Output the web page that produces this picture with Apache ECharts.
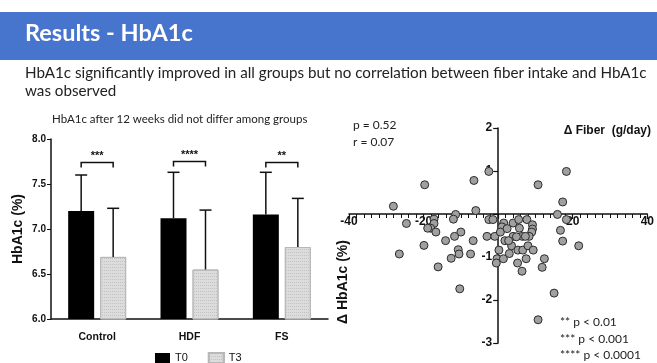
<!DOCTYPE html>
<html><head><meta charset="utf-8">
<script src="https://cdn.jsdelivr.net/npm/echarts@6/dist/echarts.min.js"></script>
<style>html,body{margin:0;padding:0;background:#fff}#c{width:657px;height:363px}</style>
</head><body><div id="c"></div>
<script>
// ---- data ----
const categories = ['Control', 'HDF', 'FS'];
const t0Mean = [7.20, 7.12, 7.16];
const t0Upper = [7.60, 7.63, 7.63];
const t3Mean = [6.69, 6.55, 6.80];
const t3Upper = [7.23, 7.21, 7.34];
const sigStars = ['***', '****', '**'];
const sigLevel = [7.74, 7.75, 7.74];
const barTicks = [6.0, 6.5, 7.0, 7.5, 8.0];

const fiberDelta = [-2.5, 18.3, 10.7, 17.3, 15.9, 18.3, 16.7, 17.3, 21.6, -2.5, -1.4, -3.0, -0.9, 1.5, 1.0, 0.6, 2.4, 1.8,
  4.0, 5.5, 7.7, 5.7, 9.2, 9.2, 9.0, 8.3, 6.5, 7.3, 4.0, 3.6, 5.3, 6.6, 8.0, 9.4, 0.2, -0.3, -0.5, 1.4, 3.0, 5.2, 7.5,
  6.4, 12.4, 11.8, 15.0, 10.7, -28.1, -24.6, -17.2, -17.2, -18.1, -16.7, -11.4, -12.0, -6.0, -10.0, -11.7, -14.1, -6.7,
  -19.9, -26.5, -10.7, -10.5, -12.6, -7.4, -16.1, -19.7, -6.5, -10.3, 2.8, 4.9, -18.9];
const hba1cDelta = [0.99, 0.99, 0.68, 0.28, -0.01, -0.13, -0.38, -0.63, -0.74, -0.13, -0.13, -0.52, -0.52, -0.21, -0.30, -0.42, -0.34, -0.62,
  -0.21, -0.13, -0.13, -0.33, -0.25, -0.35, -0.42, -0.52, -0.52, -0.52, -0.52, -0.74, -0.84, -0.84, -0.74, -0.84, -0.84, -1.04, -1.14, -1.04, -0.92, -1.14, -1.04,
  -1.33, -1.04, -1.24, -1.84, -2.46, 0.18, -0.22, -0.12, -0.22, -0.33, -0.42, -0.01, -0.12, 0.08, -0.42, -0.52, -0.62, -0.62,
  -0.73, -0.93, -0.83, -0.93, -1.03, -0.93, -1.23, 0.68, 0.78, -1.74, -0.62, -0.53, -0.33];
const scatterXTicks = [-40, -20, 0, 20, 40];
const scatterYTicks = [-3, -2, -1, 0, 1, 2];

// ---- chart ----
const chart = echarts.init(document.getElementById('c'));
const BW = 26, GAP = 6, OFF = (BW + GAP) / 2;
const fontMain = 'Lato, "Open Sans", sans-serif';
const fontAx = '"Liberation Sans", Arial, sans-serif';

function errRender(offset) {
  return function (params, api) {
    const c = api.value(0);
    const p0 = api.coord([c, api.value(1)]);
    const p1 = api.coord([c, api.value(2)]);
    const x = p0[0] + offset;
    return { type: 'group', children: [
      { type: 'line', shape: { x1: x, y1: p0[1], x2: x, y2: p1[1] }, style: { stroke: '#111', lineWidth: 1.5 } },
      { type: 'line', shape: { x1: x - 6, y1: p1[1], x2: x + 6, y2: p1[1] }, style: { stroke: '#111', lineWidth: 1.5 } }
    ] };
  };
}

const xMin = scatterXTicks[0], xMax = scatterXTicks[scatterXTicks.length - 1];
const yMin = scatterYTicks[0], yMax = scatterYTicks[scatterYTicks.length - 1];

chart.setOption({
  animation: false,
  graphic: [
    { type: 'rect', left: 0, top: 12, shape: { width: 657, height: 48 }, style: { fill: '#4775cd' } },
    { type: 'text', left: 25, top: 21, style: { text: 'Results - HbA1c', font: 'bold 23.5px ' + fontMain, fill: '#fff' } },
    { type: 'text', left: 25, top: 66, style: { text: 'HbA1c significantly improved in all groups but no correlation between fiber intake and HbA1c', font: '15.2px ' + fontMain, fill: '#222' } },
    { type: 'text', left: 25, top: 84, style: { text: 'was observed', font: '15.2px ' + fontMain, fill: '#222' } },
    { type: 'text', left: 52, top: 113, style: { text: 'HbA1c after 12 weeks did not differ among groups', font: '11.5px ' + fontMain, fill: '#222' } },
    { type: 'text', left: 353, top: 119, style: { text: 'p = 0.52', font: '12px ' + fontMain, fill: '#222' } },
    { type: 'text', left: 353, top: 136, style: { text: 'r = 0.07', font: '12px ' + fontMain, fill: '#222' } },
    { type: 'text', right: 6, top: 125, style: { text: 'Δ Fiber  (g/day)', font: 'bold 12px ' + fontAx, fill: '#111' } },
    { type: 'text', left: 560, top: 316, style: { text: '** p < 0.01', font: '12px ' + fontMain, fill: '#222' } },
    { type: 'text', left: 560, top: 333, style: { text: '*** p < 0.001', font: '12px ' + fontMain, fill: '#222' } },
    { type: 'text', left: 560, top: 349, style: { text: '**** p < 0.0001', font: '12px ' + fontMain, fill: '#222' } },
    { type: 'text', x: 343, y: 282, rotation: Math.PI / 2, style: { text: 'Δ HbA1c (%)', font: 'bold 14px ' + fontAx, fill: '#111', align: 'center', verticalAlign: 'middle' } }
  ],
  legend: {
    data: ['T0', 'T3'], left: 150, top: 347, itemWidth: 15, itemHeight: 10, itemGap: 20,
    icon: 'rect', textStyle: { fontFamily: fontAx, fontSize: 11, color: '#111' }
  },
  grid: [
    { left: 51, top: 139, width: 277, height: 180 },
    { left: 349, top: 128, width: 299, height: 215 }
  ],
  xAxis: [
    { gridIndex: 0, type: 'category', data: categories,
      axisLine: { lineStyle: { color: '#111', width: 1.5 } },
      axisTick: { alignWithLabel: true, length: 4, lineStyle: { color: '#111' } },
      axisLabel: { fontFamily: fontAx, fontWeight: 'bold', fontSize: 10.5, color: '#111', margin: 13 } },
    { gridIndex: 1, type: 'value', min: xMin, max: xMax, interval: 20, position: 'bottom',
      axisLine: { onZero: false, lineStyle: { color: '#111', width: 1.5 } },
      axisTick: { length: 5, lineStyle: { color: '#111', width: 1.2 } },
      minorTick: { show: true, splitNumber: 10, length: 4, lineStyle: { color: '#111', width: 1 } },
      splitLine: { show: false },
      axisLabel: { fontFamily: fontAx, fontWeight: 'bold', fontSize: 12, color: '#111', margin: 2,
        formatter: v => (v === 0 ? '' : String(v)) } }
  ],
  yAxis: [
    { gridIndex: 0, type: 'value', min: 6, max: 8, interval: 0.5,
      name: 'HbA1c (%)', nameLocation: 'middle', nameGap: 26,
      nameTextStyle: { fontFamily: fontAx, fontWeight: 'bold', fontSize: 14, color: '#111' },
      axisLine: { show: true, lineStyle: { color: '#111', width: 1.5 } },
      axisTick: { show: true, length: 4, lineStyle: { color: '#111' } },
      splitLine: { show: false },
      axisLabel: { fontFamily: fontAx, fontWeight: 'bold', fontSize: 10, color: '#111', margin: 5,
        formatter: v => v.toFixed(1) } },
    { gridIndex: 1, type: 'value', min: yMin, max: yMax, interval: 1, position: 'left',
      axisLine: { show: true, onZero: false, lineStyle: { color: '#111', width: 1.5 } },
      axisTick: { show: true, length: 5, lineStyle: { color: '#111', width: 1.2 } },
      splitLine: { show: false },
      axisLabel: { fontFamily: fontAx, fontWeight: 'bold', fontSize: 12, color: '#111', margin: 6,
        formatter: v => (v === 0 ? '' : String(v)) } }
  ],
  series: [
    { name: 'T0', type: 'bar', xAxisIndex: 0, yAxisIndex: 0, data: t0Mean, barWidth: BW, barGap: (GAP / BW * 100) + '%',
      itemStyle: { color: '#000' } },
    { name: 'T3', type: 'bar', xAxisIndex: 0, yAxisIndex: 0, data: t3Mean, barWidth: BW,
      itemStyle: { color: '#dcdcdc', borderColor: '#b8b8b8', borderWidth: 1,
        decal: { symbol: 'rect', symbolSize: 1, dashArrayX: [1, 1], dashArrayY: [1, 2], color: 'rgba(150,150,150,0.35)' } } },
    { name: 'errT0', type: 'custom', xAxisIndex: 0, yAxisIndex: 0, z: 5,
      data: categories.map((c, i) => [i, t0Mean[i], t0Upper[i]]), renderItem: errRender(-OFF) },
    { name: 'errT3', type: 'custom', xAxisIndex: 0, yAxisIndex: 0, z: 5,
      data: categories.map((c, i) => [i, t3Mean[i], t3Upper[i]]), renderItem: errRender(OFF) },
    { name: 'sig', type: 'custom', xAxisIndex: 0, yAxisIndex: 0, z: 5,
      data: categories.map((c, i) => [i, sigLevel[i], sigStars[i]]),
      renderItem: function (params, api) {
        const p = api.coord([api.value(0), api.value(1)]);
        const xl = p[0] - OFF, xr = p[0] + OFF, y = p[1];
        return { type: 'group', children: [
          { type: 'polyline', shape: { points: [[xl, y + 5], [xl, y], [xr, y], [xr, y + 5]] }, style: { stroke: '#111', lineWidth: 1.5, fill: null } },
          { type: 'text', x: p[0], y: y - 1, style: { text: sigStars[params.dataIndex], font: 'bold 11px ' + fontAx, fill: '#111', align: 'center', verticalAlign: 'bottom' } }
        ] };
      } },
    { name: 'scatter', type: 'scatter', xAxisIndex: 1, yAxisIndex: 1, z: 4,
      data: fiberDelta.map((x, i) => [x, hba1cDelta[i]]), symbolSize: 8,
      itemStyle: { color: '#a0a0a0', borderColor: '#2a2a2a', borderWidth: 1, opacity: 1 } }
  ]
});

// move the scatter axes (with their labels) to cross at the origin, using the library's own scale
const origin = chart.convertToPixel({ gridIndex: 1 }, [0, 0]);
const corner = chart.convertToPixel({ gridIndex: 1 }, [xMin, yMin]);
chart.setOption({
  xAxis: [{}, { offset: -(corner[1] - origin[1]) }],
  yAxis: [{}, { offset: -(origin[0] - corner[0]) }]
});
</script></body></html>
